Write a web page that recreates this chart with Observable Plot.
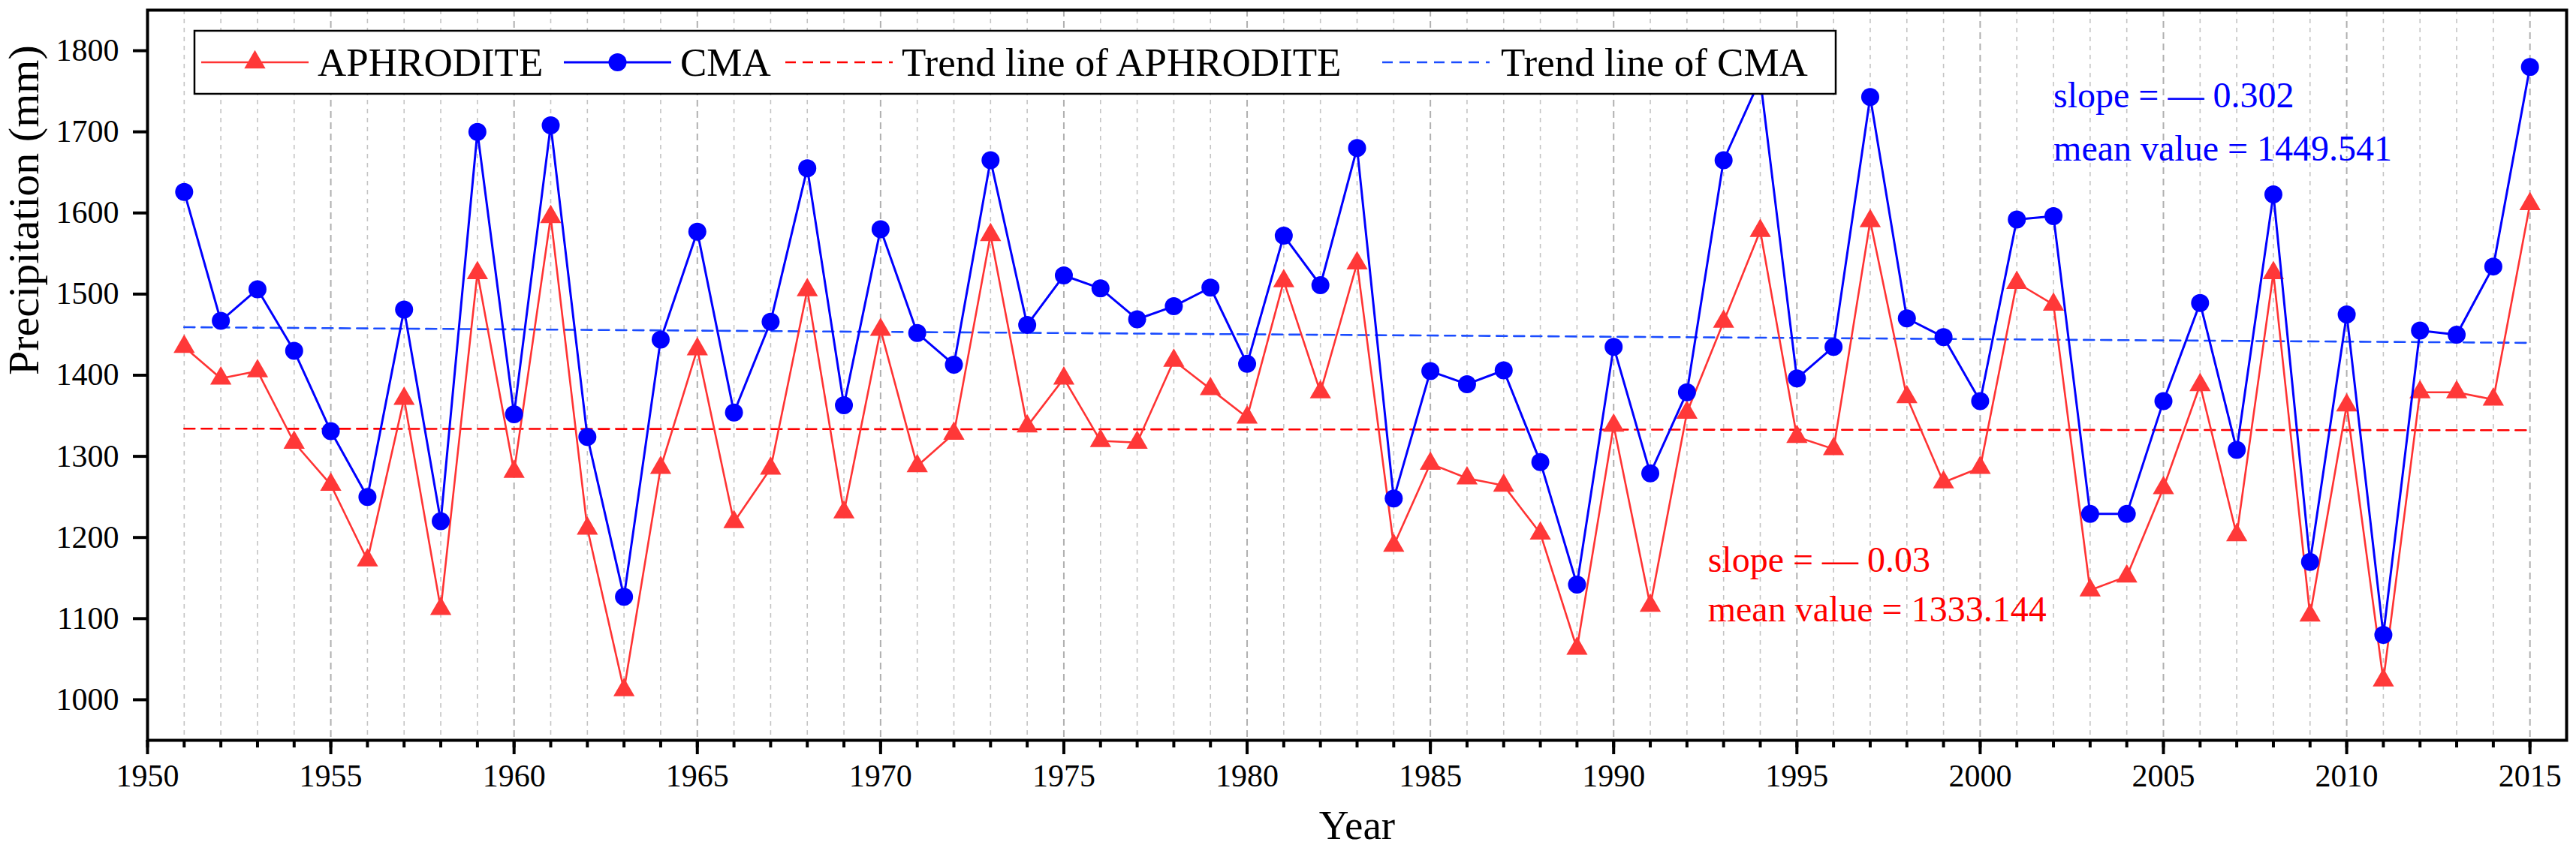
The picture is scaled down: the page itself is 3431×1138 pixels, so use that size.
<!DOCTYPE html>
<html>
<head>
<meta charset="utf-8">
<script src="https://cdn.jsdelivr.net/npm/d3@7"></script>
<script src="https://cdn.jsdelivr.net/npm/@observablehq/plot@0.6"></script>
<style>
  html, body { margin: 0; padding: 0; background: white; }
  #chart svg { display: block; }
</style>
</head>
<body>
<div id="chart"></div>
<script>
// ---- Data ----
const years = [1951,1952,1953,1954,1955,1956,1957,1958,1959,1960,
  1961,1962,1963,1964,1965,1966,1967,1968,1969,1970,
  1971,1972,1973,1974,1975,1976,1977,1978,1979,1980,
  1981,1982,1983,1984,1985,1986,1987,1988,1989,1990,
  1991,1992,1993,1994,1995,1996,1997,1998,1999,2000,
  2001,2002,2003,2004,2005,2006,2007,2008,2009,2010,
  2011,2012,2013,2014,2015];

const aphrodite = [1435,1396,1405,1317,1265,1172,1371,1112,1526,1281,
  1595,1211,1012,1286,1432,1219,1285,1505,1231,1456,
  1288,1328,1573,1337,1396,1319,1317,1418,1383,1348,
  1516,1379,1538,1190,1291,1273,1264,1205,1063,1338,
  1116,1354,1466,1578,1324,1309,1590,1373,1268,1286,
  1514,1487,1135,1152,1261,1388,1203,1526,1104,1363,
  1024,1379,1379,1370,1611];

const cma = [1626,1467,1506,1430,1331,1250,1481,1220,1700,1352,
  1708,1324,1127,1444,1577,1354,1466,1655,1363,1580,
  1452,1413,1665,1462,1523,1507,1469,1485,1508,1414,
  1572,1511,1680,1248,1405,1389,1406,1293,1142,1435,
  1279,1379,1665,1765,1396,1435,1743,1470,1447,1368,
  1592,1596,1229,1229,1368,1489,1308,1623,1170,1475,
  1080,1455,1450,1534,1780];

const trendYears = [1951, 2015];
const aphroditeTrend = [1334.1, 1332.2];
const cmaTrend = [1459.2, 1439.9];

const yTicks = [1000,1100,1200,1300,1400,1500,1600,1700,1800];
const xMajorTicks = [1950,1955,1960,1965,1970,1975,1980,1985,1990,1995,2000,2005,2010,2015];
const xMinorTicks = [1950].concat(years);

const legendLabels = ["APHRODITE", "CMA", "Trend line of APHRODITE", "Trend line of CMA"];
const annotationCMA = ["slope = — 0.302", "mean value = 1449.541"];
const annotationAPH = ["slope = — 0.03", "mean value = 1333.144"];

// ---- Build ----
const FONT = "'Liberation Serif', 'Times New Roman', serif";
const RED_LINE = "#ff3333", RED_MARK = "#ff3838", RED_TREND = "#ff0000", RED_TEXT = "#ff0000";
const BLUE = "#0000ff", BLUE_TREND = "#1a4cff", BLUE_TEXT = "#0000ff";

const rows = years.map((year, i) => ({year, a: aphrodite[i], c: cma[i]}));
const trendA = trendYears.map((year, i) => ({year, v: aphroditeTrend[i]}));
const trendC = trendYears.map((year, i) => ({year, v: cmaTrend[i]}));
const majorGrid = years.filter(y => y % 5 === 0);
const minorGrid = years.filter(y => y % 5 !== 0);

const chart = Plot.plot({
  width: 3431,
  height: 1138,
  marginLeft: 196,
  marginRight: 13,
  marginTop: 13,
  marginBottom: 152,
  x: {domain: [1950, 2016], label: null},
  y: {domain: [950, 1850], label: null},
  style: {fontFamily: FONT, background: "white", color: "black", overflow: "visible"},
  marks: [
    Plot.ruleX(minorGrid, {stroke: "#c4c4c4", strokeWidth: 1.6, strokeDasharray: "6,6"}),
    Plot.ruleX(majorGrid, {stroke: "#b0b0b0", strokeWidth: 2, strokeDasharray: "9,6"}),
    Plot.line(trendA, {x: "year", y: "v", stroke: RED_TREND, strokeWidth: 2.6, strokeDasharray: "14,9"}),
    Plot.line(trendC, {x: "year", y: "v", stroke: BLUE_TREND, strokeWidth: 2.6, strokeDasharray: "14,9"}),
    Plot.line(rows, {x: "year", y: "a", stroke: RED_LINE, strokeWidth: 2.6}),
    Plot.dot(rows, {x: "year", y: "a", symbol: "triangle", r: 10.5, fill: RED_MARK, stroke: null}),
    Plot.line(rows, {x: "year", y: "c", stroke: BLUE, strokeWidth: 3}),
    Plot.dot(rows, {x: "year", y: "c", symbol: "circle", r: 12, fill: BLUE, stroke: null}),
    Plot.axisY({ticks: yTicks, tickSize: 19, tickPadding: 19, strokeWidth: 4, fontSize: 42, tickFormat: d => String(d), label: null}),
    Plot.axisX({ticks: xMinorTicks, tickSize: 10, strokeWidth: 4, tickFormat: () => "", label: null}),
    Plot.axisX({ticks: xMajorTicks, tickSize: 19, tickPadding: 13, strokeWidth: 4, fontSize: 42, tickFormat: d => String(d), label: null}),
    Plot.frame({stroke: "black", strokeWidth: 4}),
    Plot.text(["Year"], {text: d => d, frameAnchor: "bottom", dy: 131, lineAnchor: "bottom", fontSize: 55, fill: "black"}),
    Plot.text(["Precipitation (mm)"], {text: d => d, frameAnchor: "left", dx: -146, rotate: -90, lineAnchor: "bottom", fontSize: 58, fill: "black"}),
    Plot.text([annotationCMA[0]], {text: d => d, x: 2002.0, y: 1730, textAnchor: "start", lineAnchor: "bottom", fontSize: 48, fill: BLUE_TEXT}),
    Plot.text([annotationCMA[1]], {text: d => d, x: 2002.0, y: 1665, textAnchor: "start", lineAnchor: "bottom", fontSize: 48, fill: BLUE_TEXT}),
    Plot.text([annotationAPH[0]], {text: d => d, x: 1992.57, y: 1158, textAnchor: "start", lineAnchor: "bottom", fontSize: 48, fill: RED_TEXT}),
    Plot.text([annotationAPH[1]], {text: d => d, x: 1992.57, y: 1097, textAnchor: "start", lineAnchor: "bottom", fontSize: 48, fill: RED_TEXT})
  ]
});

// ---- Legend (drawn inside the chart's SVG, over the plot area) ----
const svg = d3.select(chart);
const lg = svg.append("g").attr("class", "legend").attr("text-anchor", "start");
const box = {x: 259, y: 41, w: 2186, h: 84};
const cy = box.y + box.h / 2;
lg.append("rect").attr("x", box.x).attr("y", box.y).attr("width", box.w).attr("height", box.h)
  .attr("fill", "white").attr("stroke", "black").attr("stroke-width", 2.5);

const legendItems = [
  {label: legendLabels[0], color: RED_LINE, fillMark: RED_MARK, dash: null, symbol: d3.symbolTriangle, size: Math.PI * 10.5 * 10.5, sx: 268, tx: 423, sw: 2.6},
  {label: legendLabels[1], color: BLUE, fillMark: BLUE, dash: null, symbol: d3.symbolCircle, size: Math.PI * 12 * 12, sx: 751, tx: 906, sw: 3},
  {label: legendLabels[2], color: RED_TREND, dash: "14,9", symbol: null, sx: 1046, tx: 1201, sw: 2.6},
  {label: legendLabels[3], color: BLUE_TREND, dash: "14,9", symbol: null, sx: 1841, tx: 1999, sw: 2.6}
];
const sampleW = 143;
legendItems.forEach(it => {
  const ln = lg.append("line").attr("x1", it.sx).attr("x2", it.sx + sampleW).attr("y1", cy).attr("y2", cy)
    .attr("stroke", it.color).attr("stroke-width", it.sw);
  if (it.dash) ln.attr("stroke-dasharray", it.dash);
  if (it.symbol) {
    lg.append("path").attr("d", d3.symbol(it.symbol, it.size)())
      .attr("transform", `translate(${it.sx + sampleW / 2},${cy})`).attr("fill", it.fillMark);
  }
  lg.append("text").attr("x", it.tx).attr("y", cy + 18).attr("font-size", 53)
    .attr("font-family", FONT).attr("text-anchor", "start").attr("fill", "black").text(it.label);
});

document.getElementById("chart").appendChild(chart);
</script>
</body>
</html>
